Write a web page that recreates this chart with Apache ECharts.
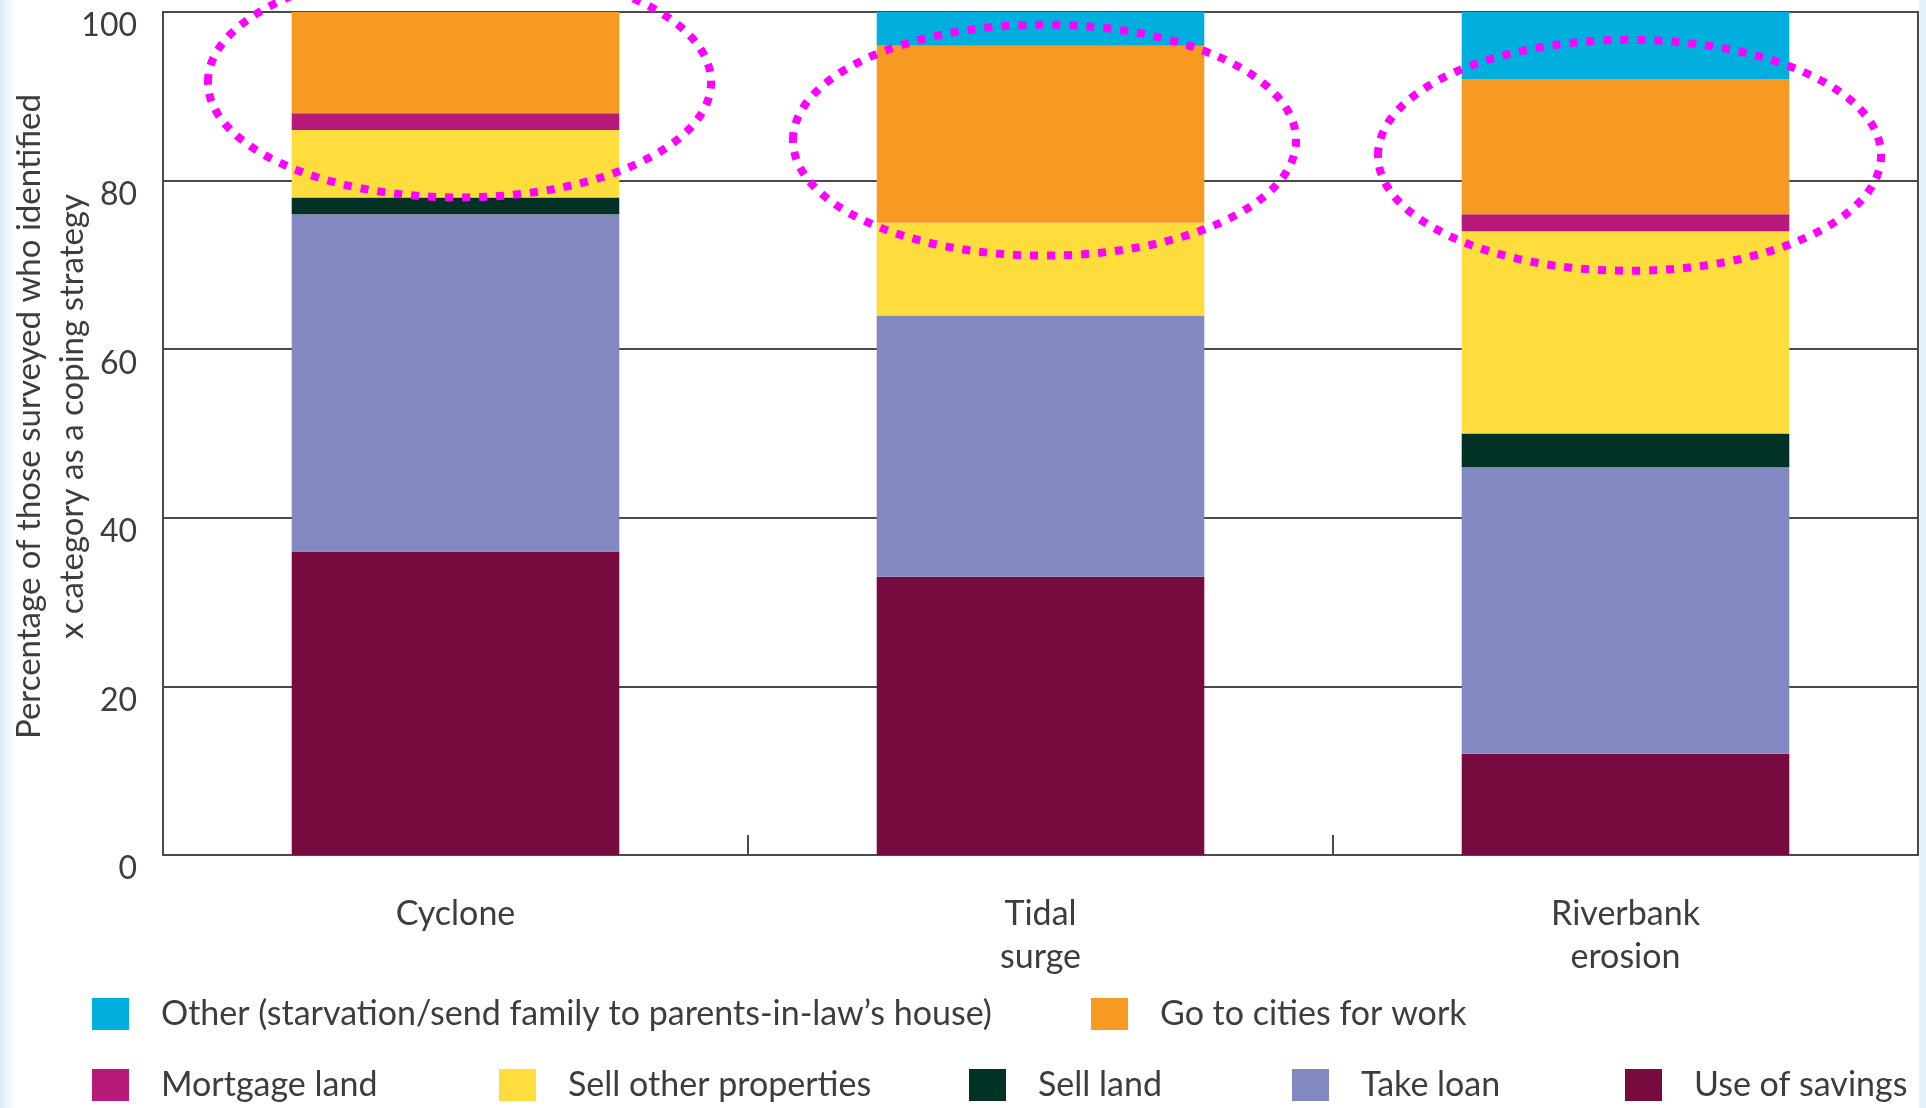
<!DOCTYPE html>
<html>
<head>
<meta charset="utf-8">
<title>Coping strategies by hazard</title>
<script src="https://cdn.jsdelivr.net/npm/echarts@6/dist/echarts.min.js"></script>
<style>
  html, body { margin: 0; padding: 0; width: 1926px; height: 1108px; overflow: hidden; }
  body {
    background: linear-gradient(to right, #d9eaf7 0px, #eef6fc 8px, #ffffff 17px, #ffffff 1918px, #e3f0fa 1920px, #e3f0fa 1926px);
  }
  #chart { width: 1926px; height: 1108px; }
</style>
</head>
<body>
<div id="chart"></div>
<script>
// Hazard types (x axis)
const categories = ['Cyclone', 'Tidal\nsurge', 'Riverbank\nerosion'];

// Share of respondents (%) using each coping strategy, per hazard
const useOfSavings     = [36, 33, 12];
const takeLoan         = [40, 31, 34];
const sellLand         = [2, 0, 4];
const sellOther        = [8, 11, 24];
const mortgageLand     = [2, 0, 2];
const goToCities       = [12, 21, 16];
const otherStrategies  = [0, 4, 8];

// Value axis ticks
const yTicks = [0, 20, 40, 60, 80, 100];

const seriesNames = {
  savings: 'Use of savings',
  loan: 'Take loan',
  land: 'Sell land',
  other: 'Sell other properties',
  mortgage: 'Mortgage land',
  cities: 'Go to cities for work',
  misc: 'Other (starvation/send family to parents-in-law\u2019s house)'
};

const colors = {
  savings: '#770b40',
  loan: '#8189c0',
  land: '#023125',
  other: '#fedd3c',
  mortgage: '#b81a7c',
  cities: '#f79a22',
  misc: '#00afdd'
};

const FONT = 'Lato, "Open Sans", sans-serif';
const TEXT = '#3d3d3d';
const LINE = '#4a4a4a';

function bar(key, data) {
  return {
    name: seriesNames[key],
    type: 'bar',
    stack: 'total',
    barWidth: '56%',
    data: data,
    itemStyle: { color: colors[key] },
    emphasis: { disabled: true }
  };
}

function legendAt(key, left, top) {
  return {
    data: [seriesNames[key]],
    left: left,
    top: top,
    padding: 0,
    icon: 'rect',
    itemWidth: 37,
    itemHeight: 32,
    selectedMode: false,
    textStyle: { fontFamily: FONT, fontSize: 34, color: TEXT, padding: [0, 0, 0, 27] }
  };
}

const chart = echarts.init(document.getElementById('chart'), null, { renderer: 'canvas' });

chart.setOption({
  animation: false,
  backgroundColor: 'transparent',
  grid: {
    left: 163, right: 8, top: 12, bottom: 253,
    outerBoundsMode: 'none',
    containLabel: false,
    show: true, borderColor: LINE, borderWidth: 2, backgroundColor: '#ffffff'
  },
  legend: [
    legendAt('misc', 92, 997),
    legendAt('cities', 1091, 997),
    legendAt('mortgage', 92, 1068),
    legendAt('other', 499, 1068),
    legendAt('land', 969, 1068),
    legendAt('loan', 1292, 1068),
    legendAt('savings', 1625, 1068)
  ],
  xAxis: {
    type: 'category',
    data: categories,
    axisLine: { lineStyle: { color: LINE, width: 2 } },
    axisTick: { show: true, inside: true, length: 20, lineStyle: { color: LINE, width: 2 } },
    axisLabel: {
      margin: 38, fontFamily: FONT, fontSize: 34, color: TEXT, lineHeight: 43
    }
  },
  yAxis: {
    type: 'value',
    min: yTicks[0],
    max: yTicks[yTicks.length - 1],
    interval: yTicks[1] - yTicks[0],
    name: 'Percentage of those surveyed who identified\nx category as a coping strategy',
    nameLocation: 'middle',
    nameGap: 69,
    nameMoveOverlap: false,
    nameTextStyle: {
      fontFamily: FONT, fontSize: 33, color: TEXT, lineHeight: 43, align: 'center',
      padding: [0, 0, 0, 34]
    },
    axisLine: { show: true, lineStyle: { color: LINE, width: 2 } },
    axisTick: { show: false },
    splitLine: { show: true, lineStyle: { color: LINE, width: 2 } },
    axisLabel: {
      margin: 26, fontFamily: FONT, fontSize: 32, color: TEXT,
      verticalAlign: 'top', lineHeight: 28
    }
  },
  series: [
    bar('savings', useOfSavings),
    bar('loan', takeLoan),
    bar('land', sellLand),
    bar('other', sellOther),
    bar('mortgage', mortgageLand),
    bar('cities', goToCities),
    bar('misc', otherStrategies)
  ]
});

// Dotted highlight rings around the upper segments of each column,
// placed in data space: [category index, value centre, half-width in categories, half-height in %]
const rings = [
  [0, 91.7, 0.43, 13.7],
  [1, 84.8, 0.43, 13.7],
  [2, 83.0, 0.43, 13.7]
];

function drawRings() {
  const g = rings.map(function (r) {
    const c = chart.convertToPixel({ gridIndex: 0 }, [r[0], r[1]]);
    const next = chart.convertToPixel({ gridIndex: 0 }, [r[0] + 1, r[1] - r[3]]);
    const rx = (next[0] - c[0]) * r[2];
    const ry = next[1] - c[1];
    return {
      type: 'ellipse',
      z: 100,
      silent: true,
      shape: { cx: c[0] + 4, cy: c[1], rx: rx, ry: ry },
      style: { fill: 'none', stroke: '#ff00ff', lineWidth: 8, lineDash: [8, 9] }
    };
  });
  chart.setOption({ graphic: g });
}
drawRings();
</script>
</body>
</html>
